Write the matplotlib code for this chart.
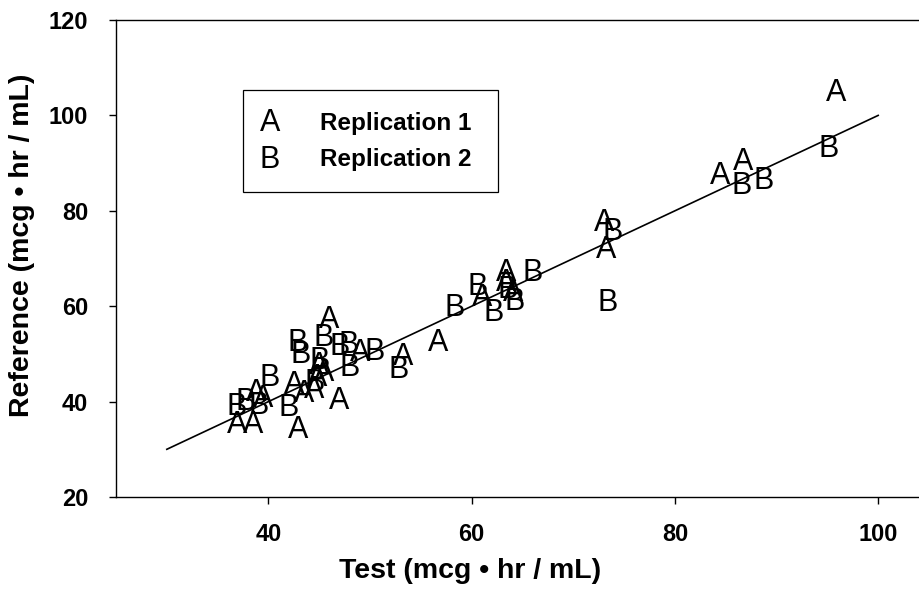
import matplotlib
matplotlib.use("Agg")
import matplotlib.pyplot as plt
from matplotlib.patches import Rectangle

# Replication 1 (A): test, reference
rep1_test = [95.9, 86.7, 84.4, 73.0, 73.2, 63.4, 63.4, 64.1, 61.0, 56.7, 53.3, 46.0,
             47.0, 42.9, 45.0, 44.8, 44.5, 42.5, 43.5, 38.8, 36.9, 38.5, 39.5, 49.0, 45.5]
rep1_ref = [104.7, 90.2, 87.3, 77.4, 71.8, 67.0, 64.9, 62.8, 61.7, 52.3, 49.4, 57.1,
            40.1, 34.0, 47.5, 45.0, 42.5, 43.5, 41.5, 41.8, 35.1, 35.1, 40.5, 50.2, 46.0]
# Replication 2 (B)
rep2_test = [95.1, 86.6, 88.7, 73.9, 73.4, 60.6, 66.0, 58.3, 62.2, 64.2, 52.8, 50.4,
             42.9, 45.4, 47.9, 47.0, 43.2, 48.0, 40.1, 42.0, 36.9, 37.8, 39.0, 44.5, 45.0, 63.5]
rep2_ref = [93.0, 85.2, 86.2, 75.6, 60.7, 64.0, 67.0, 59.6, 58.6, 60.9, 46.6, 50.4,
            52.3, 53.3, 51.9, 51.5, 49.8, 47.0, 45.0, 38.7, 38.9, 39.9, 39.0, 44.0, 48.5, 63.5]

line_x = [30, 100]
line_y = [30, 100]
x_ticks = [40, 60, 80, 100]
y_ticks = [20, 40, 60, 80, 100, 120]
x_label = "Test (mcg \u2022 hr / mL)"
y_label = "Reference (mcg \u2022 hr / mL)"
legend_labels = ["Replication 1", "Replication 2"]

fam = ["Liberation Sans", "DejaVu Sans"]

fig = plt.figure(figsize=(9.2, 6.02), dpi=100)
ax = fig.add_axes([116/920, 105/602, 813/920, 477/602])
ax.set_xlim(25, 105)
ax.set_ylim(20, 120)

ax.plot(line_x, line_y, color="black", lw=1.2)

for x, y in zip(rep1_test, rep1_ref):
    ax.text(x, y, "A", ha="center", va="center", fontsize=22, family=fam, color="black")
for x, y in zip(rep2_test, rep2_ref):
    ax.text(x, y, "B", ha="center", va="center", fontsize=22, family=fam, color="black")

ax.set_xticks(x_ticks)
ax.set_yticks(y_ticks)
ax.set_xticklabels([str(t) for t in x_ticks], family=fam, fontweight="bold", fontsize=17)
ax.set_yticklabels([str(t) for t in y_ticks], family=fam, fontweight="bold", fontsize=17)
ax.tick_params(direction="out", length=5, width=1)
ax.tick_params(axis="x", pad=14)
ax.tick_params(axis="y", pad=15)

ax.set_xlabel(x_label, family=fam, fontweight="bold", fontsize=20.5)
ax.set_ylabel(y_label, family=fam, fontweight="bold", fontsize=20.5)
ax.xaxis.set_label_coords(0.435, -0.128)
ax.yaxis.set_label_coords(-0.1, 0.528)

for s in ax.spines.values():
    s.set_linewidth(1.0)

# legend box
ax.add_patch(Rectangle((0.156, 0.639), 0.314, 0.214, transform=ax.transAxes,
                       fill=False, edgecolor="black", lw=0.9, zorder=5))
for i, (sym, lab) in enumerate(zip(["A", "B"], legend_labels)):
    yy = 0.784 - i * 0.077
    ax.text(0.189, yy, sym, transform=ax.transAxes, ha="center", va="center",
            fontsize=22, family=fam)
    ax.text(0.251, yy, lab, transform=ax.transAxes, ha="left", va="center",
            fontsize=17.5, family=fam, fontweight="bold")

fig.savefig("out.png", dpi=100)
